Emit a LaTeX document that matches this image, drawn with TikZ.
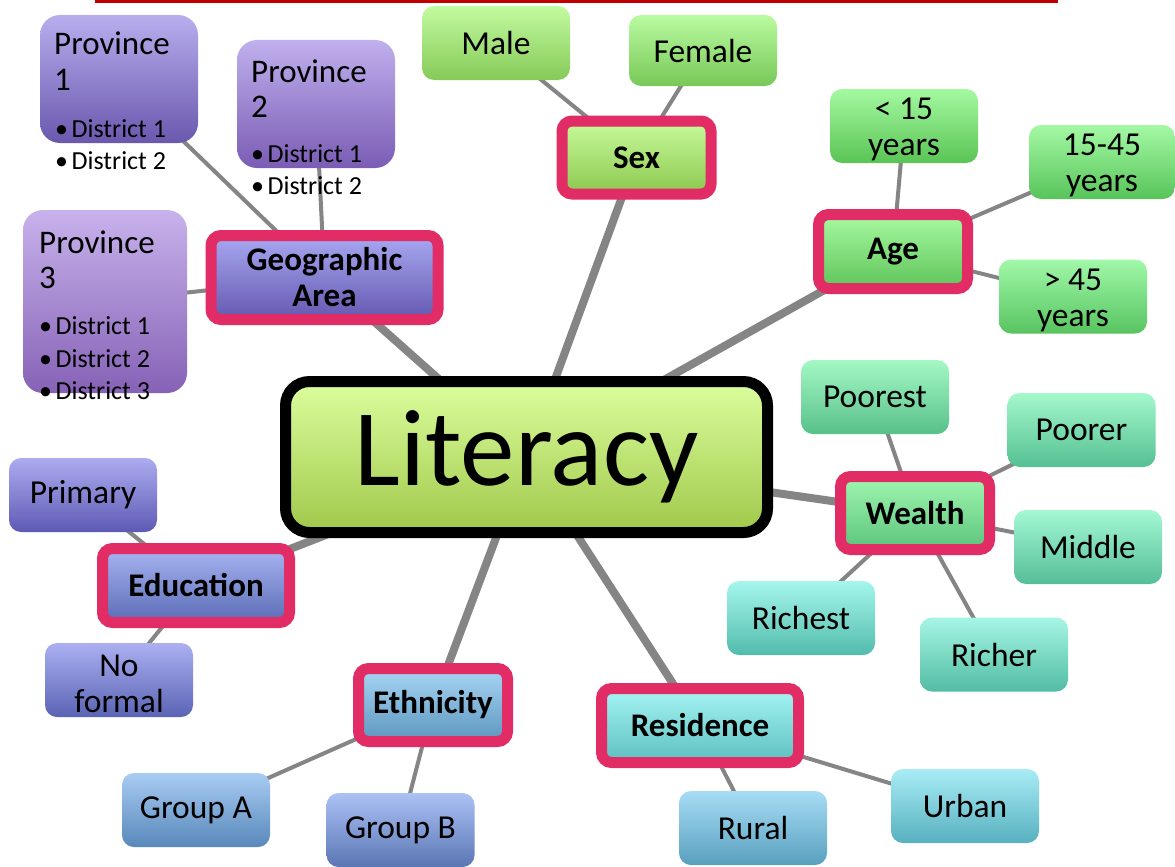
\documentclass[tikz,border=0pt]{standalone}
\usepackage{fontspec}
\setmainfont{Carlito}
\usetikzlibrary{backgrounds}
\definecolor{linegray}{HTML}{858585}
\definecolor{pinkc}{HTML}{E12C66}
\definecolor{redline}{HTML}{C00000}
\newcommand\defpair[3]{\definecolor{#1T}{HTML}{#2}\definecolor{#1B}{HTML}{#3}}
\defpair{lit}{DCFE9E}{A0C84A}
\defpair{sex}{C8FA9A}{8CC850}
\defpair{geo}{A8A8F2}{6458B0}
\defpair{age}{A8FAA0}{5EC45A}
\defpair{wealth}{A0F6B0}{5CC47C}
\defpair{edu}{A8B4F2}{5A6CB6}
\defpair{eth}{A8D6F5}{5C96BE}
\defpair{res}{A6F4F4}{5CC0C0}
\defpair{male}{C2FBA0}{86CA58}
\defpair{female}{BAFBA0}{78C858}
\defpair{lt}{A4F9A0}{5AC455}
\defpair{mid}{A4F9A4}{58C45A}
\defpair{gt}{A0F8A8}{58C460}
\defpair{poorest}{A4F8C4}{58C08A}
\defpair{poorer}{A4F8CC}{55C092}
\defpair{middle}{A4F8D4}{55BE98}
\defpair{richest}{A6F6EC}{52BCAC}
\defpair{richer}{A6F6E4}{52BCA4}
\defpair{rural}{A8DCF5}{58A0BE}
\defpair{urban}{A8ECF5}{58B0C0}
\defpair{ga}{A8CCF3}{5888BA}
\defpair{gb}{ACC2F5}{5A76B4}
\defpair{prim}{ACACF0}{5E5AB4}
\defpair{nof}{ACB0F2}{5A64B4}
\defpair{pa}{B8AEEE}{6A58AE}
\defpair{pb}{C0B0EE}{7A5CB4}
\defpair{pc}{C8B2EC}{8662B6}
\newcommand\leaffont{\fontsize{33.5}{36}\selectfont}
\newcommand\provfont{\fontsize{33}{36}\selectfont}
\newcommand\catfont{\bfseries\fontsize{33}{36}\selectfont}
\newcommand\distfont{\fontsize{26}{30}\selectfont}
\newcommand\litfont{\fontsize{109}{120}\selectfont}
\newcommand\bul{•\hspace{3.5pt}}
\newcommand\lowstrut{\rule{0pt}{29pt}}
\tikzset{
  conn/.style={draw=linegray, line width=4},
  mainconn/.style={draw=linegray, line width=8},
  litnode/.style={draw=black, line width=11, rounded corners=24, minimum width=482, minimum height=151, inner sep=0, font=\litfont},
  cat/.style={draw=pinkc, line width=11, rounded corners=10, minimum width=149, minimum height=73, inner sep=0, font=\catfont, align=center},
  leaf/.style={rounded corners=12, minimum width=148, minimum height=74, inner sep=0, font=\leaffont, align=center},
  provbox/.style={rounded corners=20, inner sep=0},
  provtxt/.style={anchor=base west, inner sep=0, font=\provfont},
  disttxt/.style={anchor=base west, inner sep=0, font=\distfont},
  sh/.style={top color=#1T, bottom color=#1B}
}
\begin{document}
\begin{tikzpicture}[x=1pt,y=-1pt]
\useasboundingbox (0,0) rectangle (1175,867);

% central node
\node[litnode, sh=lit] (lit) at (526.5,457) {Literacy};

% categories
\node[cat, sh=sex] (sex) at (636.5,157.5) {Sex};
\node[cat, minimum width=227, minimum height=84, sh=geo] (geo) at (324.5,277.5) {Geographic\\Area};
\node[cat, minimum height=74, sh=age] (age) at (893,251.5) {Age};
\node[cat, sh=wealth] (wealth) at (915,513) {Wealth};
\node[cat, minimum width=187, minimum height=74, sh=edu] (edu) at (196,585.5) {Education};
\node[cat, sh=eth] (eth) at (433,705) {Ethnicity};
\node[cat, minimum width=197, minimum height=74, sh=res] (res) at (700,725.5) {Residence};

% leaves
\node[leaf, sh=male] (male) at (496,43) {Male};
\node[leaf, minimum height=71, sh=female] (female) at (703,50.5) {Female};
\node[leaf, sh=lt] (lt15) at (904,126) {\lowstrut< 15\\years};
\node[leaf, minimum width=146, sh=mid] (mid) at (1102,162) {\lowstrut 15-45\\years};
\node[leaf, sh=gt] (gt45) at (1073,296.5) {\lowstrut> 45\\years};
\node[leaf, sh=poorest] (poorest) at (875,397) {Poorest};
\node[leaf, sh=poorer] (poorer) at (1081.5,430) {Poorer};
\node[leaf, sh=middle] (middle) at (1088,547) {Middle};
\node[leaf, sh=richest] (richest) at (801,618) {Richest};
\node[leaf, sh=richer] (richer) at (994,654.5) {Richer};
\node[leaf, sh=rural] (rural) at (753,828) {Rural};
\node[leaf, sh=urban] (urban) at (965,806) {Urban};
\node[leaf, sh=ga] (groupa) at (196,810) {Group A};
\node[leaf, sh=gb] (groupb) at (400.5,830) {Group B};
\node[leaf, sh=prim] (primary) at (83,495) {Primary};
\node[leaf, sh=nof] (noformal) at (119,680) {\lowstrut No\\formal};

% provinces
\node[provbox, minimum width=158, minimum height=128, sh=pa] (prov1) at (119,79) {};
\node[provbox, minimum width=158, minimum height=128, sh=pb] (prov2) at (316,104) {};
\node[provbox, minimum width=164, minimum height=183, sh=pc] (prov3) at (105,301.5) {};

\node[provtxt] (p1a) at (54,55) {Province};
\node[provtxt] (p1b) at (54,91) {1};
\node[disttxt] (p1c) at (55,137) {\bul District 1};
\node[disttxt] (p1d) at (55,169) {\bul District 2};

\node[provtxt] (p2a) at (251,82) {Province};
\node[provtxt] (p2b) at (251,117) {2};
\node[disttxt] (p2c) at (251,162) {\bul District 1};
\node[disttxt] (p2d) at (251,194) {\bul District 2};

\node[provtxt] (p3a) at (39,253) {Province};
\node[provtxt] (p3b) at (39,288) {3};
\node[disttxt] (p3c) at (39,334) {\bul District 1};
\node[disttxt] (p3d) at (39,367) {\bul District 2};
\node[disttxt] (p3e) at (39,399) {\bul District 3};

\begin{pgfonlayer}{background}
\fill[white] (0,0) rectangle (1175,867);
\fill[redline] (95,0) rectangle (1058,3);
\foreach \n in {sex,age,wealth,res,eth,edu,geo}
  \draw[mainconn] (lit.center) -- (\n.center);
\foreach \a/\b in {geo/prov1,geo/prov2,geo/prov3,sex/male,sex/female,age/lt15,age/mid,age/gt45,
  wealth/poorest,wealth/poorer,wealth/middle,wealth/richest,wealth/richer,res/rural,res/urban,
  eth/groupa,eth/groupb,edu/primary,edu/noformal}
  \draw[conn] (\a.center) -- (\b.center);
\end{pgfonlayer}
\end{tikzpicture}
\end{document}
